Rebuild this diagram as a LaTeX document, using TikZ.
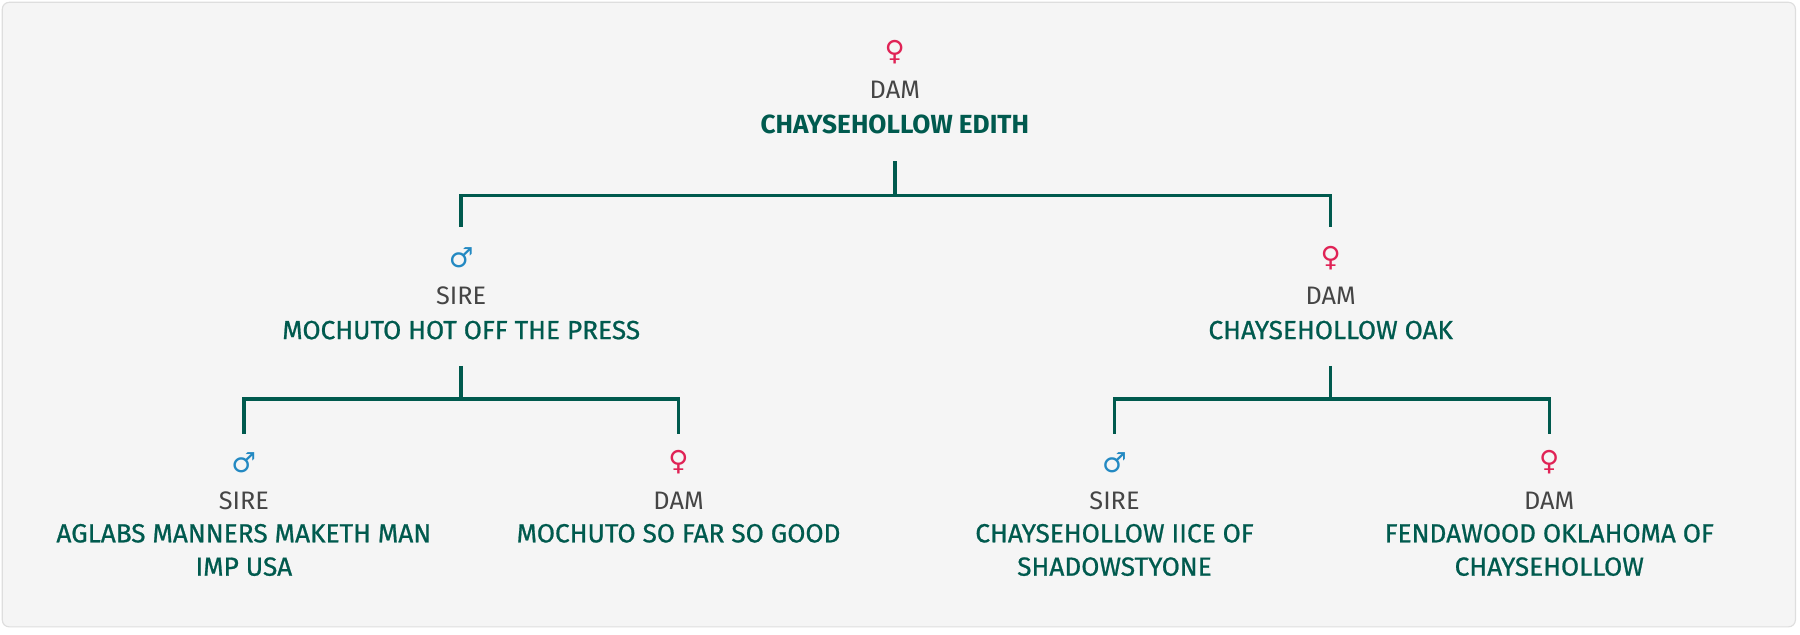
\documentclass[tikz,border=0pt]{standalone}
\usepackage{fontspec}
\setmainfont{Fira Sans}
\newfontfamily\medf{Fira Sans}[FakeBold=0.8]
\newfontfamily\symf{DejaVu Sans}
\definecolor{gr}{HTML}{005A4E}
\definecolor{ml}{HTML}{2389C2}
\definecolor{fm}{HTML}{E02356}
\definecolor{lb}{HTML}{454545}
\begin{document}
\begin{tikzpicture}[x=1pt,y=-1pt,
  sym/.style={font=\symf\fontsize{24}{24}\selectfont},
  role/.style={text=lb,font=\fontsize{22}{26}\selectfont},
  nm/.style={text=gr,font=\medf\fontsize{22.8}{29}\selectfont,align=center},
  ln/.style={draw=gr,line width=3pt}]
\useasboundingbox (0,0) rectangle (1565,552);
\draw[fill={rgb,255:red,245;green,245;blue,245},draw={rgb,255:red,222;green,222;blue,222},rounded corners=6pt,line width=1pt] (2,2) rectangle (1561,545);
% root
\node[sym,text=fm] (s0) at (778,45) {♀};
\node[role] (r0) at (778,78) {DAM};
\node[nm,font=\bfseries\fontsize{22.8}{26}\selectfont] (n0) at (778,108) {CHAYSEHOLLOW EDITH};
% level 2
\node[sym,text=ml] (s1) at (401,224) {♂};
\node[role] (r1) at (401,257) {SIRE};
\node[nm] (n1) at (401,287) {MOCHUTO HOT OFF THE PRESS};
\node[sym,text=fm] (s2) at (1157,224) {♀};
\node[role] (r2) at (1157,257) {DAM};
\node[nm] (n2) at (1157,287) {CHAYSEHOLLOW OAK};
% level 3
\node[sym,text=ml] (s3) at (212,402) {♂};
\node[role] (r3) at (212,435) {SIRE};
\node[nm,anchor=north] (n3) at (212,452) {AGLABS MANNERS MAKETH MAN\\IMP USA};
\node[sym,text=fm] (s4) at (590,402) {♀};
\node[role] (r4) at (590,435) {DAM};
\node[nm,anchor=north] (n4) at (590,452) {MOCHUTO SO FAR SO GOOD};
\node[sym,text=ml] (s5) at (969,402) {♂};
\node[role] (r5) at (969,435) {SIRE};
\node[nm,anchor=north] (n5) at (969,452) {CHAYSEHOLLOW IICE OF\\SHADOWSTYONE};
\node[sym,text=fm] (s6) at (1347,402) {♀};
\node[role] (r6) at (1347,435) {DAM};
\node[nm,anchor=north] (n6) at (1347,452) {FENDAWOOD OKLAHOMA OF\\CHAYSEHOLLOW};
% connectors
\coordinate (a0) at (778,140); \coordinate (j0) at (778,170);
\coordinate (a1) at (401,318); \coordinate (j1) at (401,347);
\coordinate (a2) at (1157,318); \coordinate (j2) at (1157,347);
\draw[ln] (a0) -- (j0);
\draw[ln] (s1.north |- 0,197) |- (j0) -| (s2.north |- 0,197);
\draw[ln] (a1) -- (j1);
\draw[ln] (s3.north |- 0,377) |- (j1) -| (s4.north |- 0,377);
\draw[ln] (a2) -- (j2);
\draw[ln] (s5.north |- 0,377) |- (j2) -| (s6.north |- 0,377);
\end{tikzpicture}
\end{document}
